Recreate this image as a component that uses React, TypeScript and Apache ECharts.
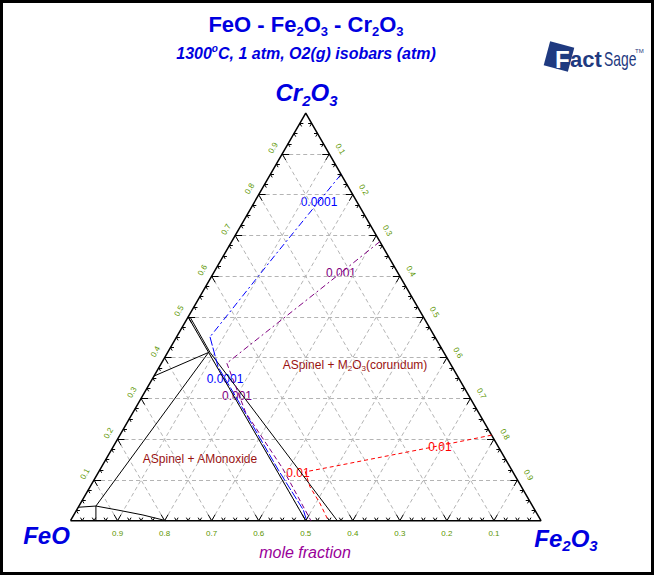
import React, { useEffect, useRef } from 'react';
import * as echarts from 'echarts';

// Compositions are [x(Fe2O3), x(Cr2O3)] mole fractions; x(FeO) = 1 - both.
const gridValues = [0.1, 0.2, 0.3, 0.4, 0.5, 0.6, 0.7, 0.8, 0.9];
const tickLabels = ['0.1', '0.2', '0.3', '0.4', '0.5', '0.6', '0.7', '0.8', '0.9'];
const minorPerMajor = 4;

// Phase boundaries (black)
const spinelJoin = [[0, 0.5], [0.5, 0]];
const spinelEdge = [[0.004, 0.5], [0.09, 0.413], [0.567, 0]];
const monoxideEdge = [[0.087, 0.413], [0, 0.355]];
const twoPhaseEdge = [[0.087, 0.413], [0.036, 0.036]];
const lowEdgeA = [[0, 0.033], [0.036, 0.036]];
const lowEdgeB = [[0.036, 0.036], [0.054, 0]];
const lowEdgeC = [[0.036, 0.036], [0.088, 0.026], [0.147, 0.014], [0.203, 0]];

// O2(g) isobars
const iso1e4Upper = [[0.15, 0.85], [0.11, 0.657], [0.071, 0.451]];
const iso1e4Band = [[0.071, 0.451], [0.1245, 0.378], [0.25, 0.254], [0.38, 0.124], [0.482, 0.026], [0.502, 0]];
const iso1e3Upper = [[0.315, 0.685], [0.258, 0.587], [0.139, 0.3865]];
const iso1e3Band = [[0.139, 0.3865], [0.24, 0.265], [0.386, 0.129], [0.511, 0]];
const iso1e2 = [[0.79, 0.21], [0.669, 0.178], [0.586, 0.157], [0.492, 0.133], [0.439, 0.12], [0.467, 0.0835], [0.508, 0.0435], [0.548, 0]];

const H = Math.sqrt(3) / 2;
const FONT = '"Liberation Sans", Arial, Helvetica, sans-serif';
const BLUE = '#0000e0';
const toXY = (p: number[]) => [p[0] + p[1] / 2, p[1] * H];

const GRID_W = 470.5;

function lineSeries(data: number[][], color: string, width: number, type: any) {
  return {
    type: 'line',
    data: data.map(toXY),
    symbol: 'none',
    silent: true,
    clip: false,
    lineStyle: { color, width, type },
    z: 5,
  };
}

export default function App() {
  const ref = useRef<HTMLDivElement>(null);
  useEffect(() => {
    document.body.style.margin = '0';
    const chart = echarts.init(ref.current!, null, { renderer: 'svg' });

    const gridSegs: any[] = [];
    gridValues.forEach((v) => {
      gridSegs.push({ coords: [toXY([0, v]), toXY([1 - v, v])] });
      gridSegs.push({ coords: [toXY([v, 0]), toXY([v, 1 - v])] });
      gridSegs.push({ coords: [toXY([1 - v, 0]), toXY([0, 1 - v])] });
    });

    const U = 1 / GRID_W;
    const tickSegs: any[] = [];
    const addTick = (p: number[], dirs: number[][], len: number) =>
      dirs.forEach((d) => tickSegs.push({ coords: [p, [p[0] + d[0] * len * U, p[1] + d[1] * len * U]] }));
    const n = (gridValues.length + 1) * minorPerMajor;
    for (let i = 1; i < n; i++) {
      const v = i / n;
      const len = i % minorPerMajor === 0 ? 7 : 3.5;
      addTick(toXY([0, v]), [[1, 0], [0.5, -H]], len);
      addTick(toXY([v, 1 - v]), [[-1, 0], [-0.5, -H]], len);
      addTick(toXY([1 - v, 0]), [[-0.5, H], [0.5, H]], len);
    }

    chart.setOption({
      animation: false,
      backgroundColor: '#ffffff',
      grid: { left: 70.5, top: 520.7 - GRID_W * H, width: GRID_W, height: GRID_W * H },
      xAxis: { type: 'value', min: 0, max: 1, show: false },
      yAxis: { type: 'value', min: 0, max: H, show: false },
      series: [
        {
          type: 'lines', coordinateSystem: 'cartesian2d', silent: true, data: gridSegs,
          lineStyle: { color: '#b4b4b4', width: 1, type: [4, 3], opacity: 1 }, z: 1,
        },
        {
          type: 'lines', coordinateSystem: 'cartesian2d', silent: true, data: tickSegs,
          lineStyle: { color: '#000', width: 1, opacity: 1 }, z: 6,
        },
        lineSeries([[0, 0], [1, 0], [0, 1], [0, 0]], '#000', 1.5, 'solid'),
        lineSeries(spinelJoin, '#000', 1, 'solid'),
        lineSeries(spinelEdge, '#000', 1, 'solid'),
        lineSeries(monoxideEdge, '#000', 1, 'solid'),
        lineSeries(twoPhaseEdge, '#000', 1, 'solid'),
        lineSeries(lowEdgeA, '#000', 1, 'solid'),
        lineSeries(lowEdgeB, '#000', 1, 'solid'),
        lineSeries(lowEdgeC, '#000', 1, 'solid'),
        lineSeries(iso1e4Upper, '#0000ff', 1, [7, 3, 2, 3]),
        lineSeries(iso1e4Band, '#0000ff', 1, [9, 2]),
        lineSeries(iso1e3Upper, '#800080', 1, [6, 3, 2, 3]),
        lineSeries(iso1e3Band, '#800080', 1, [5, 3]),
        lineSeries(iso1e2, '#ff0000', 1, [4, 3]),
      ],
    });

    const tickStyle = (t: string) => ({
      text: t, fontSize: 8, fontFamily: FONT, fill: '#5c9600', align: 'center', verticalAlign: 'middle',
    });
    const px = (p: number[]) => chart.convertToPixel({ gridIndex: 0 }, toXY(p)) as number[];
    const labelEls: any[] = [];
    gridValues.forEach((v, i) => {
      const l = px([0, v]);
      labelEls.push({ type: 'text', x: l[0] - 9, y: l[1] - 6, rotation: Math.PI / 3, style: tickStyle(tickLabels[i]) });
      const r = px([v, 1 - v]);
      labelEls.push({ type: 'text', x: r[0] + 11, y: r[1] - 5, rotation: -Math.PI / 3, style: tickStyle(tickLabels[i]) });
      const b = px([1 - v, 0]);
      labelEls.push({ type: 'text', x: b[0], y: b[1] + 13, style: tickStyle(tickLabels[i]) });
    });

    const big = (size: number, italic: boolean, color: string, bold = true) => ({
      fontSize: size, fontWeight: bold ? 'bold' : 'normal', fontStyle: italic ? 'italic' : 'normal',
      fontFamily: FONT, fill: color,
    });
    const formula = (x: number, y: number, txt: string, main: number, sub: number, pad: number, italic: boolean, color: string, bold = true) => ({
      type: 'text', x, y,
      style: {
        text: txt, align: 'center', verticalAlign: 'middle',
        rich: { a: big(main, italic, color, bold), s: { ...big(sub, italic, color, bold), padding: [pad, 0, 0, 0] } },
      },
    });
    const plain = (x: number, y: number, t: string, size: number, color: string) => ({
      type: 'text', x, y,
      style: { text: t, fontSize: size, fontFamily: FONT, fill: color, align: 'center', verticalAlign: 'middle' },
    });
    const NAVY = '#1f3a80';

    chart.setOption({
      graphic: {
        elements: [
          {
            type: 'rect', shape: { x: 1.5, y: 1.5, width: 651, height: 572 },
            style: { fill: 'none', stroke: '#000', lineWidth: 3 }, z: 100,
          },
          formula(306, 24, '{a|FeO - Fe}{s|2}{a|O}{s|3}{a| - Cr}{s|2}{a|O}{s|3}', 22, 13, 14, false, BLUE),
          {
            type: 'text', x: 306, y: 53,
            style: {
              text: '{a|1300}{o|o}{a|C, 1 atm, O2(g) isobars (atm)}', align: 'center', verticalAlign: 'middle',
              rich: { a: big(16, true, BLUE), o: { ...big(10, true, BLUE), padding: [0, 0, 10, 0] } },
            },
          },
          formula(306.5, 92.5, '{a|Cr}{s|2}{a|O}{s|3}', 24, 15, 15, true, BLUE),
          formula(46.5, 535, '{a|FeO}', 24, 15, 15, true, BLUE),
          formula(566, 538, '{a|Fe}{s|2}{a|O}{s|3}', 24, 15, 15, true, BLUE),
          {
            type: 'text', x: 305, y: 552,
            style: { ...big(16, true, '#990099', false), text: 'mole fraction', align: 'center', verticalAlign: 'middle' },
          },
          formula(355, 365, '{a|ASpinel + M}{s|2}{a|O}{s|3}{a|(corundum)}', 12, 8, 7, false, '#991111', false),
          plain(200, 459, 'ASpinel + AMonoxide', 12, '#991111'),
          plain(319, 202, '0.0001', 12, '#0000ff'),
          plain(225, 379, '0.0001', 12, '#0000ff'),
          plain(341, 273, '0.001', 12, '#800080'),
          plain(237, 396, '0.001', 12, '#800080'),
          plain(440, 447, '0.01', 12, '#ff0000'),
          plain(298, 472.5, '0.01', 12, '#ff0000'),
          // FactSage logo
          {
            type: 'rect', x: 559, y: 56.5, rotation: -0.26, shape: { x: -12.5, y: -12.5, width: 25, height: 25 },
            style: { fill: NAVY },
          },
          { type: 'text', x: 555, y: 59, style: { text: 'F', ...big(24, false, '#ffffff'), verticalAlign: 'middle', stroke: NAVY, lineWidth: 1 } },
          { type: 'text', x: 570, y: 59, style: { text: 'act', ...big(22, false, NAVY), verticalAlign: 'middle' } },
          { type: 'text', x: 604, y: 59, scaleX: 0.66, style: { text: 'Sage', ...big(21, false, NAVY, false), verticalAlign: 'middle' } },
          { type: 'text', x: 635, y: 51, style: { text: 'TM', ...big(6, false, NAVY, false), verticalAlign: 'middle' } },
          ...labelEls,
        ],
      },
    });

    return () => chart.dispose();
  }, []);
  return <div ref={ref} style={{ position: 'fixed', left: 0, top: 0, width: 654, height: 575 }} />;
}
